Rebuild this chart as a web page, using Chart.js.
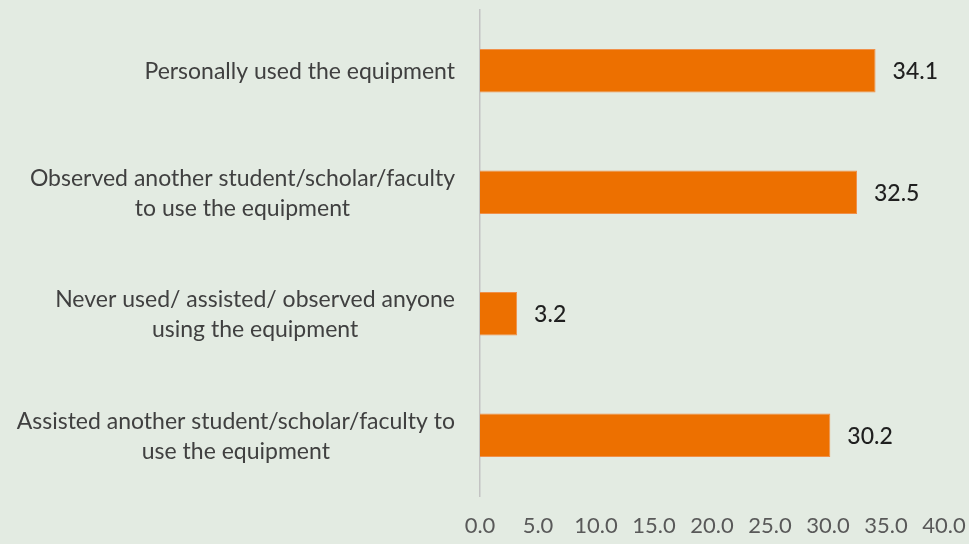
<!DOCTYPE html>
<html>
<head>
<meta charset="utf-8">
<script src="https://cdn.jsdelivr.net/npm/chart.js@4/dist/chart.umd.min.js"></script>
<style>
  html, body { margin: 0; padding: 0; background: #e3ebe2; }
  #wrap { width: 969px; height: 544px; position: relative; }
</style>
</head>
<body>
<div id="wrap"><canvas id="chart"></canvas></div>
<script>
// Survey responses: how respondents engaged with the equipment (%)
const categories = [
  ["Personally used the equipment"],
  ["Observed another student/scholar/faculty", "to use the equipment"],
  ["Never used/ assisted/ observed anyone", "using the equipment"],
  ["Assisted another student/scholar/faculty to", "use the equipment"]
];
const shares = [34.1, 32.5, 3.2, 30.2];
const axisMin = 0;
const axisMax = 40;
const axisStep = 5;

const FONT = "Lato, 'Open Sans', sans-serif";
const LABEL_SIZE = 23;

// Category labels: block right-aligned against the axis, lines centred within the block
const categoryLabels = {
  id: 'categoryLabels',
  afterDraw(chart) {
    const ctx = chart.ctx;
    const y = chart.scales.y;
    const right = chart.chartArea.left - 25;
    const lineH = 30;
    ctx.save();
    ctx.font = `${LABEL_SIZE}px ${FONT}`;
    ctx.fillStyle = '#404040';
    ctx.textAlign = 'center';
    ctx.textBaseline = 'middle';
    categories.forEach((lines, i) => {
      const cy = y.getPixelForTick(i) + 1;
      const w = Math.max(...lines.map(l => ctx.measureText(l).width));
      const cx = right - w / 2;
      const top = cy - (lines.length - 1) * lineH / 2;
      lines.forEach((l, j) => ctx.fillText(l, cx, top + j * lineH));
    });
    ctx.restore();
  }
};

// Value labels to the right of each bar
const valueLabels = {
  id: 'valueLabels',
  afterDatasetsDraw(chart) {
    const ctx = chart.ctx;
    const meta = chart.getDatasetMeta(0);
    ctx.save();
    ctx.font = `500 ${LABEL_SIZE}px ${FONT}`;
    ctx.fillStyle = '#1f1f1f';
    ctx.textAlign = 'left';
    ctx.textBaseline = 'middle';
    meta.data.forEach((bar, i) => {
      ctx.fillText(shares[i].toFixed(1), bar.x + 17, bar.y + 1);
    });
    ctx.restore();
  }
};

new Chart(document.getElementById('chart'), {
  type: 'bar',
  data: {
    labels: categories,
    datasets: [{
      data: shares,
      backgroundColor: '#ed7000',
      borderColor: '#f0904a',
      borderWidth: 1,
      barPercentage: 0.72,
      categoryPercentage: 0.5
    }]
  },
  options: {
    indexAxis: 'y',
    responsive: true,
    maintainAspectRatio: false,
    animation: false,
    layout: { padding: { top: 10, right: 25, left: 0, bottom: 0 } },
    plugins: {
      legend: { display: false },
      tooltip: { enabled: false }
    },
    scales: {
      x: {
        min: axisMin,
        max: axisMax,
        grid: { display: false, drawTicks: false },
        border: { display: false },
        afterFit(scale) {
          scale.height = 48;
          scale.paddingLeft = 0;
          scale.paddingRight = 0;
        },
        ticks: {
          stepSize: axisStep,
          padding: 17,
          color: '#595959',
          font: { family: FONT, size: 22 },
          callback: v => Number(v).toFixed(1),
          maxRotation: 0
        }
      },
      y: {
        grid: { display: false, drawTicks: false },
        border: { display: true, color: '#c3c3c3', width: 1.5 },
        afterFit(scale) { scale.width = 480; },
        ticks: { display: false }
      }
    }
  },
  plugins: [categoryLabels, valueLabels]
});
</script>
</body>
</html>
